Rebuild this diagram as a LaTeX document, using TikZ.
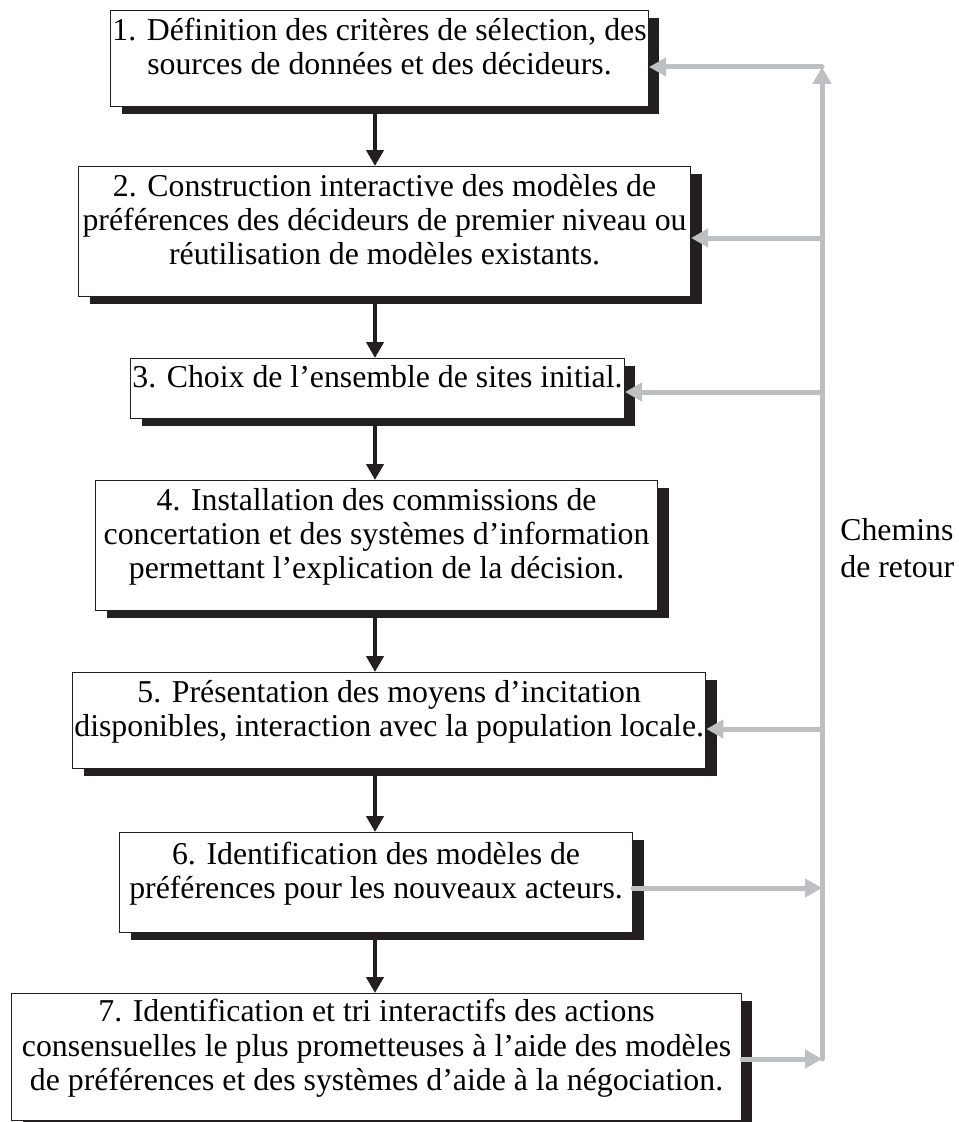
\documentclass[tikz,border=0pt]{standalone}
\usepackage{fontspec}
\setmainfont{Liberation Serif}
\usetikzlibrary{arrows.meta,shadows}
\definecolor{shadowblack}{RGB}{35,31,32}
\definecolor{railgrey}{RGB}{190,191,195}
\newcommand{\lift}{\rule[-0.52cm]{0pt}{0pt}}
\tikzset{
    stagebox/.style={draw=shadowblack, line width=0.7pt, fill=white, anchor=north west,
        align=center, inner xsep=1pt, inner ysep=0pt,
        font=\fontsize{18.1}{19.5}\selectfont,
        drop shadow={shadow xshift=0.22cm, shadow yshift=-0.14cm, fill=shadowblack, opacity=1}},
    flowarrow/.style={-{Triangle[length=0.32cm, width=0.34cm]}, line width=0.09cm, draw=shadowblack},
    backarrow/.style={-{Triangle[length=0.34cm, width=0.36cm]}, line width=0.1cm, draw=railgrey, line cap=round}
}

\begin{document}
\begin{tikzpicture}[x=0.02cm, y=-0.02cm]
\useasboundingbox (0,0) rectangle (958,1122);
% steps
\node[stagebox, minimum width=10.64cm, minimum height=1.92cm] (b1) at (110,10)
    {\strut 1. Définition des critères de sélection, des\\sources de données et des décideurs.\lift};
\node[stagebox, minimum width=12.24cm, minimum height=2.6cm] (b2) at (78,166)
    {\strut 2. Construction interactive des modèles de\\préférences des décideurs de premier niveau ou\\réutilisation de modèles existants.\lift};
\node[stagebox, minimum width=9.84cm, minimum height=1.2cm] (b3) at (130,358)
    {\strut 3. Choix de l’ensemble de sites initial.\lift};
\node[stagebox, minimum width=11.24cm, minimum height=2.6cm] (b4) at (95,480)
    {\strut 4. Installation des commissions de\\concertation et des systèmes d’information\\permettant l’explication de la décision.\lift};
\node[stagebox, minimum width=12.62cm, minimum height=1.92cm] (b5) at (72,672)
    {\strut 5. Présentation des moyens d’incitation\\disponibles, interaction avec la population locale.\lift};
\node[stagebox, minimum width=10.26cm, minimum height=2.0cm] (b6) at (119,832)
    {\strut 6. Identification des modèles de\\préférences pour les nouveaux acteurs.\lift};
\node[stagebox, minimum width=14.6cm, minimum height=2.54cm] (b7) at (11,993)
    {\strut 7. Identification et tri interactifs des actions\\consensuelles le plus prometteuses à l’aide des modèles\\de préférences et des systèmes d’aide à la négociation.\lift};
\node[font=\fontsize{18.1}{21}\selectfont, align=left, anchor=north west, inner sep=0pt] (retour) at (840,514)
    {\strut Chemins\\de retour};

% main flow
\coordinate (spine) at (375,0);
\draw[flowarrow] (b1.south -| spine) -- (b2.north -| spine);
\draw[flowarrow] (b2.south -| spine) -- (b3.north -| spine);
\draw[flowarrow] (b3.south -| spine) -- (b4.north -| spine);
\draw[flowarrow] (b4.south -| spine) -- (b5.north -| spine);
\draw[flowarrow] (b5.south -| spine) -- (b6.north -| spine);
\draw[flowarrow] (b6.south -| spine) -- (b7.north -| spine);

% return paths
\coordinate (rtop) at (822,67);
\coordinate (r2) at (822,238);
\coordinate (r3) at (822,392);
\coordinate (r5) at (822,729);
\coordinate (r6) at (822,888);
\coordinate (r7) at (822,1059);
\draw[backarrow] (r7) -- (rtop);
\draw[backarrow] (rtop) -- (rtop -| b1.east);
\draw[backarrow] (r2) -- (r2 -| b2.east);
\draw[backarrow] (r3) -- (r3 -| b3.east);
\draw[backarrow] (r5) -- (r5 -| b5.east);
\draw[backarrow] (b6.east |- r6) -- (r6);
\draw[backarrow] (b7.east |- r7) -- (r7);
\end{tikzpicture}
\end{document}
